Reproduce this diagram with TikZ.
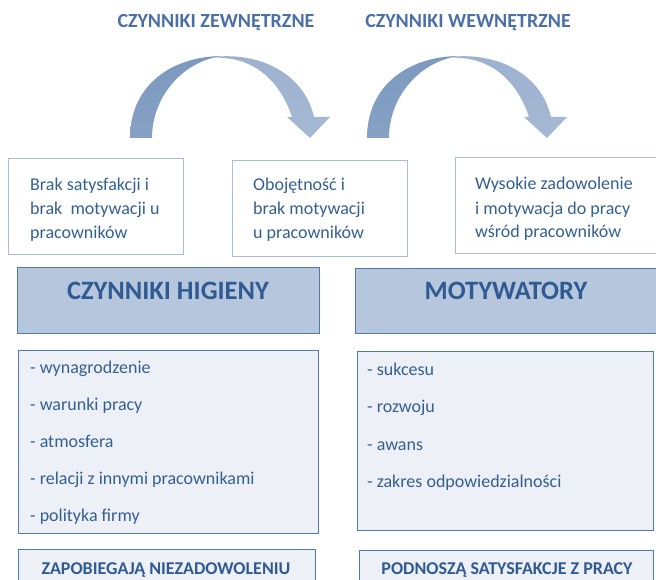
\documentclass[tikz,border=0pt]{standalone}
\usepackage{fontspec}
\setmainfont{Carlito}
\usetikzlibrary{positioning}

\definecolor{tytul}{HTML}{4A70A6}
\definecolor{tekst}{HTML}{34608F}
\definecolor{ramka}{HTML}{A9BDD9}
\definecolor{obwod}{HTML}{5079AC}
\definecolor{naglowek}{HTML}{B5C6DD}
\definecolor{naglowekTekst}{HTML}{2F5A92}
\definecolor{tlo}{HTML}{EDF0F6}
\definecolor{lukCiemny}{HTML}{86A1C4}
\definecolor{lukCiemnyG}{HTML}{7D99BF}
\definecolor{lukJasny}{HTML}{A5B9D4}
\definecolor{lukJasnyG}{HTML}{9CB1CF}

\tikzset{
  luk/.pic={
    \shade[top color=lukCiemnyG, bottom color=lukCiemny]
      (130,138) .. controls (130,85) and (172,56) .. (223,56)
      .. controls (185,60) and (152,95) .. (152,138) -- cycle;
    \shade[top color=lukJasnyG, bottom color=lukJasny]
      (212,57) .. controls (268,51) and (306,80) .. (314,117)
      -- (330,117) -- (310,138) -- (287,117) -- (292,117)
      .. controls (281,84) and (258,60) .. (223,58) -- cycle;
  }
}

\begin{document}
\begin{tikzpicture}[x=1pt,y=-1pt,
  tytul/.style={anchor=base, inner sep=0pt, text=tytul,
    font=\fontsize{20}{24}\selectfont\bfseries},
  stan/.style={draw=ramka, line width=0.9pt, fill=white, anchor=north west,
    inner sep=0pt, minimum width=175pt, minimum height=96pt},
  stanTekst/.style={anchor=north west, inner sep=0pt, align=left, text=tekst,
    font=\fontsize{18}{24}\selectfont},
  grupa/.style={draw=obwod, line width=1.2pt, fill=naglowek, anchor=north west,
    inner sep=0pt, minimum height=66pt},
  grupaTekst/.style={anchor=base, inner sep=0pt, text=naglowekTekst,
    font=\fontsize{26.5}{30}\selectfont\bfseries},
  lista/.style={draw=obwod, line width=1pt, fill=tlo, anchor=north west,
    inner sep=0pt},
  punkt/.style={anchor=base west, inner sep=0pt, text=tekst,
    font=\fontsize{18}{22}\selectfont},
  wniosekTekst/.style={anchor=base, inner sep=0pt, text=naglowekTekst,
    font=\fontsize{18}{22}\selectfont\bfseries}]
\useasboundingbox (0,0) rectangle (656,580);

% tytuly i strzalki
    \node[tytul] (zewn) at (216,27.5) {CZYNNIKI ZEWNĘTRZNE};
    \node[tytul] (wewn) at (468,27.5) {CZYNNIKI WEWNĘTRZNE};
    \pic (lukA) at (0,0) {luk};
    \pic (lukB) at (237,0) {luk};

% stany pracownikow
    \node[stan] (brak) at (8,158) {};
    \node[stanTekst] (brakT) at (30,174)
      {\strut Brak satysfakcji i\\brak\ \ motywacji u\\pracowników};
    \node[stan] (oboj) at (232,160) {};
    \node[stanTekst] (obojT) at (253,174)
      {\strut Obojętność i\\brak motywacji\\u pracowników};
    \node[stan, minimum width=203pt] (wys) at (455,157) {};
    \node[stanTekst] (wysT) at (475,173)
      {\strut Wysokie zadowolenie\\i motywacja do pracy\\wśród pracowników};

% naglowki
    \node[grupa, minimum width=302pt] (hig) at (17,267) {};
    \node[grupaTekst] (higT) at (168,299) {CZYNNIKI HIGIENY};
    \node[grupa, minimum width=303pt, minimum height=65pt] (mot) at (355,268) {};
    \node[grupaTekst] (motT) at (506,299) {MOTYWATORY};

% listy czynnikow
    \node[lista, minimum width=300pt, minimum height=183pt] (higL) at (18,350) {};
    \foreach \txt [count=\i] in {wynagrodzenie, warunki pracy, atmosfera,
        relacji z innymi pracownikami, polityka firmy}
      \node[punkt] (h\i) at (30,336+37*\i) {- \txt};

    \node[lista, minimum width=296pt, minimum height=179pt] (motL) at (357,351) {};
    \foreach \txt [count=\i] in {sukcesu, rozwoju, awans,
        zakres odpowiedzialności}
      \node[punkt] (m\i) at (367,337.5+37.5*\i) {- \txt};

% wnioski
    \node[lista, minimum width=297pt, minimum height=40pt] (zap) at (18,549) {};
    \node[wniosekTekst] (zapT) at (166,574) {ZAPOBIEGAJĄ NIEZADOWOLENIU};
    \node[lista, minimum width=294pt, minimum height=40pt] (pod) at (359,550) {};
    \node[wniosekTekst] (podT) at (507,574) {PODNOSZĄ SATYSFAKCJE Z PRACY};

\end{tikzpicture}
\end{document}
